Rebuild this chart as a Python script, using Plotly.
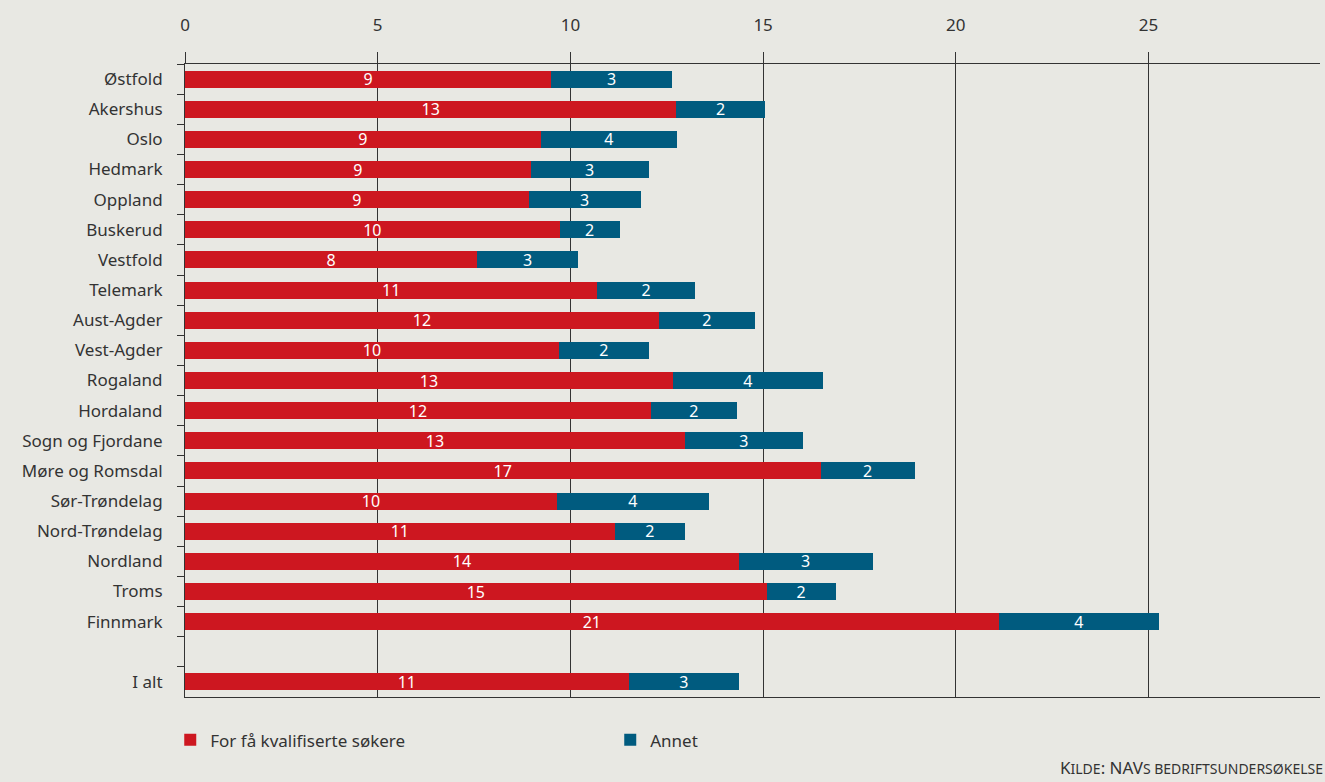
import plotly.graph_objects as go

categories = ["Østfold", "Akershus", "Oslo", "Hedmark", "Oppland", "Buskerud", "Vestfold",
              "Telemark", "Aust-Agder", "Vest-Agder", "Rogaland", "Hordaland",
              "Sogn og Fjordane", "Møre og Romsdal", "Sør-Trøndelag", "Nord-Trøndelag",
              "Nordland", "Troms", "Finnmark", " ", "I alt"]

for_faa = [9.5, 12.75, 9.23, 8.97, 8.92, 9.72, 7.58, 10.7, 12.3, 9.7, 12.66, 12.09,
           12.97, 16.49, 9.65, 11.15, 14.37, 15.09, 21.11, None, 11.51]
annet = [3.14, 2.29, 3.53, 3.06, 2.9, 1.56, 2.62, 2.53, 2.48, 2.33, 3.89, 2.23,
         3.06, 2.44, 3.94, 1.82, 3.47, 1.79, 4.17, None, 2.86]

for_faa_labels = ["9", "13", "9", "9", "9", "10", "8", "11", "12", "10", "13", "12",
                  "13", "17", "10", "11", "14", "15", "21", "", "11"]
annet_labels = ["3", "2", "4", "3", "3", "2", "3", "2", "2", "2", "4", "2",
                "3", "2", "4", "2", "3", "2", "4", "", "3"]

x_ticks = [0, 5, 10, 15, 20, 25]

RED = "#cd1720"
BLUE = "#005b7f"
BG = "#e8e8e3"
INK = "#333333"
FONT = "Noto Sans"

fig = go.Figure()
fig.add_trace(go.Bar(
    y=categories, x=for_faa, orientation="h", name="For få kvalifiserte søkere",
    marker=dict(color=RED, line=dict(width=0)), text=for_faa_labels,
    textposition="inside", insidetextanchor="middle", textangle=0,
    textfont=dict(color="white", size=16, family=FONT), width=0.56,
    hoverinfo="skip",
))
fig.add_trace(go.Bar(
    y=categories, x=annet, orientation="h", name="Annet",
    marker=dict(color=BLUE, line=dict(width=0)), text=annet_labels,
    textposition="inside", insidetextanchor="middle", textangle=0,
    textfont=dict(color="white", size=16, family=FONT), width=0.56,
    hoverinfo="skip",
))

fig.update_layout(
    barmode="stack",
    width=1325, height=782,
    paper_bgcolor=BG, plot_bgcolor=BG,
    margin=dict(l=185, r=5, t=64, b=85),
    font=dict(family=FONT, size=17, color=INK),
    uniformtext=dict(minsize=16, mode="show"),
    showlegend=True,
    legend=dict(orientation="h", x=-0.013, xanchor="left", y=-0.04, yanchor="top",
                entrywidth=395, entrywidthmode="pixels", traceorder="normal",
                font=dict(size=17, color=INK), bgcolor="rgba(0,0,0,0)"),
    xaxis=dict(side="top", range=[0, 29.45], tickvals=x_ticks, ticktext=[str(v) for v in x_ticks],
               showgrid=True, gridcolor=INK, gridwidth=1, zeroline=False,
               showline=True, linecolor=INK, linewidth=1, mirror=True,
               ticks="outside", ticklen=11, tickcolor=INK, tickwidth=1,
               ticklabelstandoff=14, tickfont=dict(size=17, color=INK)),
    yaxis=dict(autorange="reversed", type="category", categoryorder="array",
               categoryarray=categories,
               showline=True, linecolor=INK, linewidth=1,
               ticks="outside", ticklen=7, tickcolor=INK, tickwidth=1,
               tickson="boundaries", showgrid=False, zeroline=False,
               ticklabelstandoff=18, tickfont=dict(size=17, color=INK)),
    annotations=[dict(
        text="K<span style='font-size:14px'>ILDE</span>: NAV<span style='font-size:14px'>S BEDRIFTSUNDERSØKELSE</span>",
        xref="paper", yref="paper", x=1.004, y=-0.09, xanchor="right", yanchor="top",
        showarrow=False, font=dict(size=17, color=INK, family=FONT),
    )],
)

fig.write_html("out.html", config={"displayModeBar": False},
               post_script="document.body.style.margin='0';document.body.style.background='%s';" % BG)
